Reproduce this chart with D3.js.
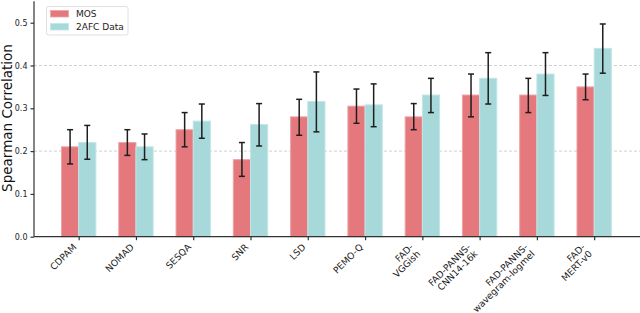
<!DOCTYPE html>
<html>
<head>
<meta charset="utf-8">
<script src="https://d3js.org/d3.v7.min.js"></script>
<style>
    body { margin: 0; background: #fff; }
    #chart-area text { font-family: "DejaVu Sans", sans-serif; }
</style>
</head>
<body>
<div id="chart-area"></div>
<script>

// metric names, multi-line labels split on \n
let categories = ["CDPAM", "NOMAD", "SESQA", "SNR", "LSD", "PEMO-Q", "FAD-\nVGGish",
    "FAD-PANNS-\nCNN14-16k", "FAD-PANNS-\nwavegram-logmel", "FAD-\nMERT-v0"];

let mosValues = [0.21, 0.22, 0.25, 0.18, 0.28, 0.305, 0.28, 0.331, 0.331, 0.35];
let mosLow = [0.17, 0.19, 0.21, 0.141, 0.237, 0.265, 0.25, 0.28, 0.29, 0.32];
let mosHigh = [0.25, 0.25, 0.29, 0.22, 0.321, 0.345, 0.311, 0.38, 0.37, 0.38];

let afcValues = [0.22, 0.21, 0.27, 0.262, 0.316, 0.308, 0.331, 0.37, 0.38, 0.44];
let afcLow = [0.181, 0.18, 0.23, 0.212, 0.245, 0.257, 0.29, 0.31, 0.33, 0.382];
let afcHigh = [0.26, 0.24, 0.31, 0.311, 0.385, 0.357, 0.37, 0.43, 0.43, 0.497];

let yTicks = [0.0, 0.1, 0.2, 0.3, 0.4, 0.5];
let gridLines = [0.2, 0.4];

let seriesNames = ["MOS", "2AFC Data"];
let seriesColors = ["#e5787d", "#a7d9db"];
let seriesEdges = ["#eba3a6", "#c2e5e6"];

class BarVis {

    constructor(parentElement) {
        this.parentElement = parentElement;
        this.series = [
            {values: mosValues, low: mosLow, high: mosHigh, offset: -1},
            {values: afcValues, low: afcLow, high: afcHigh, offset: 0}
        ];
        this.initVis();
    }

    initVis() {
        let vis = this;

        vis.width = 640;
        vis.height = 313;
        vis.margin = {top: 1.3, right: 0, bottom: 76.3, left: 34};

        vis.svg = d3.select("#" + vis.parentElement).append("svg")
            .attr("width", vis.width)
            .attr("height", vis.height);

        vis.barWidth = 0.3;

        vis.x = d3.scaleLinear()
            .domain([-0.78, categories.length - 0.2])
            .range([vis.margin.left, vis.width - vis.margin.right]);

        vis.y = d3.scaleLinear()
            .domain([0, 0.55])
            .range([vis.height - vis.margin.bottom, vis.margin.top]);

        vis.updateVis();
    }

    updateVis() {
        let vis = this;
        let y0 = vis.y(0);

        // dashed reference lines
        vis.svg.selectAll(".grid-line")
            .data(gridLines)
            .enter().append("line")
            .attr("class", "grid-line")
            .attr("x1", vis.x.range()[0])
            .attr("x2", vis.x.range()[1])
            .attr("y1", d => vis.y(d))
            .attr("y2", d => vis.y(d))
            .style("stroke", "#c4c4c4")
            .style("stroke-width", 0.8)
            .style("stroke-dasharray", "3,2");

        // bars
        vis.series.forEach(function (s, si) {
            vis.svg.selectAll(".bar-" + si)
                .data(s.values)
                .enter().append("rect")
                .attr("class", "bar-" + si)
                .attr("x", (d, i) => vis.x(i + s.offset * vis.barWidth))
                .attr("y", d => vis.y(d))
                .attr("width", vis.x(vis.barWidth) - vis.x(0))
                .attr("height", d => y0 - vis.y(d))
                .style("fill", seriesColors[si])
                .style("stroke", seriesEdges[si])
                .style("stroke-width", 1);
        });

        // error bars
        vis.series.forEach(function (s, si) {
            let g = vis.svg.selectAll(".err-" + si)
                .data(s.values)
                .enter().append("g")
                .attr("class", "err-" + si)
                .attr("transform", (d, i) =>
                    `translate(${vis.x(i + (s.offset + 0.5) * vis.barWidth)},0)`)
                .style("stroke", "#1e1e1e")
                .style("stroke-width", 1.5);

            g.append("line")
                .attr("y1", (d, i) => vis.y(s.low[i]))
                .attr("y2", (d, i) => vis.y(s.high[i]));
            g.append("line")
                .attr("x1", -3).attr("x2", 3)
                .attr("y1", (d, i) => vis.y(s.low[i]))
                .attr("y2", (d, i) => vis.y(s.low[i]));
            g.append("line")
                .attr("x1", -3).attr("x2", 3)
                .attr("y1", (d, i) => vis.y(s.high[i]))
                .attr("y2", (d, i) => vis.y(s.high[i]));
        });

        // y axis
        let yAxis = d3.axisLeft(vis.y)
            .tickValues(yTicks)
            .tickFormat(d3.format(".1f"))
            .tickSize(3.5)
            .tickPadding(3);

        vis.svg.append("g")
            .attr("class", "y-axis")
            .attr("transform", `translate(${vis.margin.left},0)`)
            .call(yAxis)
            .call(g => g.select(".domain").attr("d",
                `M0,${vis.y.range()[0]}V${vis.y.range()[1]}`))
            .call(g => g.selectAll("text").style("font-size", "8px").style("fill", "#222"));

        // x axis
        let xAxis = d3.axisBottom(vis.x)
            .tickValues(d3.range(categories.length))
            .tickFormat("")
            .tickSize(3.5);

        vis.svg.append("g")
            .attr("class", "x-axis")
            .attr("transform", `translate(0,${y0})`)
            .call(xAxis)
            .call(g => g.select(".domain").attr("d",
                `M${vis.x.range()[0]},0H${vis.x.range()[1]}`));

        vis.svg.selectAll(".domain, .tick line")
            .style("stroke", "#333")
            .style("stroke-width", 1.2);

        // rotated tick labels, right aligned like matplotlib ha='right'
        let fs = 9.2, lh = fs * 1.05;
        categories.forEach(function (c, i) {
            let lines = c.split("\n");
            let px = vis.x(i) - 0.707 * (lh * (lines.length - 1) + 0.24 * fs);
            let py = y0 + 6 + 0.707 * 0.76 * fs;
            let t = vis.svg.append("text")
                .attr("class", "x-label")
                .attr("transform", `translate(${px},${py}) rotate(-45)`)
                .attr("text-anchor", "end")
                .style("font-size", fs + "px")
                .style("fill", "#222");
            lines.forEach(function (l, li) {
                t.append("tspan")
                    .attr("x", 0)
                    .attr("y", li * lh)
                    .text(l);
            });
        });

        // y label
        vis.svg.append("text")
            .attr("transform", `translate(12.3,118) rotate(-90)`)
            .attr("text-anchor", "middle")
            .style("font-size", "13.5px")
            .style("fill", "#111")
            .text("Spearman Correlation");

        // legend
        let legend = vis.svg.append("g").attr("class", "legend");
        legend.append("rect")
            .attr("x", 46.5).attr("y", 6.5)
            .attr("width", 81.5).attr("height", 28.5)
            .attr("rx", 2)
            .style("fill", "rgba(255,255,255,0.8)")
            .style("stroke", "#d8d8d8")
            .style("stroke-width", 0.8);

        seriesNames.forEach(function (n, i) {
            legend.append("rect")
                .attr("x", 50.5).attr("y", 10.5 + i * 13)
                .attr("width", 18).attr("height", 6.5)
                .style("fill", seriesColors[i])
                .style("stroke", seriesEdges[i])
                .style("stroke-width", 0.8);
            legend.append("text")
                .attr("x", 76).attr("y", 17.3 + i * 13)
                .style("font-size", "9px")
                .style("fill", "#222")
                .text(n);
        });
    }
}

new BarVis("chart-area");

</script>
</body>
</html>
